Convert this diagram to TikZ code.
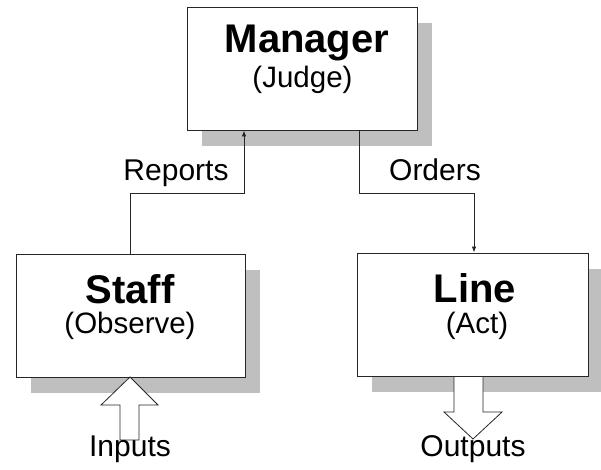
\documentclass[tikz,border=0pt]{standalone}
\usepackage{fontspec}
\setmainfont{Liberation Sans}
\usetikzlibrary{arrows.meta}
\begin{document}
\begin{tikzpicture}[x=1pt,y=-1pt,
  box/.style={draw=black!85,line width=0.9pt,fill=white,minimum width=#1,minimum height=123pt,inner sep=0pt},
  shadowbox/.style={fill=black!25,draw=none,minimum width=#1,minimum height=123pt,inner sep=0pt},
  title/.style={anchor=base,font=\fontsize{40}{44}\selectfont\bfseries,inner sep=0pt},
  sub/.style={anchor=base,font=\fontsize{29.5}{33}\selectfont,inner sep=0pt},
  lbl/.style={anchor=base,font=\fontsize{30}{33}\selectfont,inner sep=0pt},
  conn/.style={draw=black!85,line width=0.8pt},
  tip/.style={-{Latex[length=6pt,width=4.5pt]}},
  blockarrow/.style={draw=black!85,line width=0.8pt,fill=white}]
\useasboundingbox (0,0) rectangle (601,469);
% shadows
\node[shadowbox=230pt] (mshadow) at (317,84) {};
\node[shadowbox=229pt] (sshadow) at (145.5,331) {};
\node[shadowbox=231pt] (lshadow) at (487.5,330) {};
% boxes
\node[box=230pt] (manager) at (302,68.5) {};
\node[box=229pt] (staff) at (130.5,315.5) {};
\node[box=231pt] (line) at (472.5,314.5) {};
% texts
\node[title] (mt) at (307,52) {Manager};
\node[sub] (ms) at (302.5,87) {(Judge)};
\node[title] (st) at (130,303) {Staff};
\node[sub] (ss) at (130,333) {(Observe)};
\node[title] (lt) at (475,302) {Line};
\node[sub] (ls) at (477,333) {(Act)};
% connectors
\coordinate (rc1) at (130,193);
\coordinate (rc2) at (244,193);
\coordinate (oc1) at (359,193);
\coordinate (oc2) at (474,193);
\draw[conn,tip] (staff.north -| rc1) -- (rc1) -- (rc2) -- (rc2 |- manager.south);
\draw[conn,tip] (oc1 |- manager.south) -- (oc1) -- (oc2) -- (oc2 |- line.north);
\node[lbl] (reports) at (176,180) {Reports};
\node[lbl] (orders) at (435,180) {Orders};
% block arrows
\draw[blockarrow] (130,377) -- (158,405) -- (139,405) -- (139,440) -- (120,440) -- (120,405) -- (101,405) -- cycle;
\draw[blockarrow] (454,376.5) -- (483,376.5) -- (483,412) -- (502,412) -- (473,439) -- (444,412) -- (454,412) -- cycle;
\node[lbl] (inputs) at (130,456) {Inputs};
\node[lbl] (outputs) at (473,456) {Outputs};
\end{tikzpicture}
\end{document}
